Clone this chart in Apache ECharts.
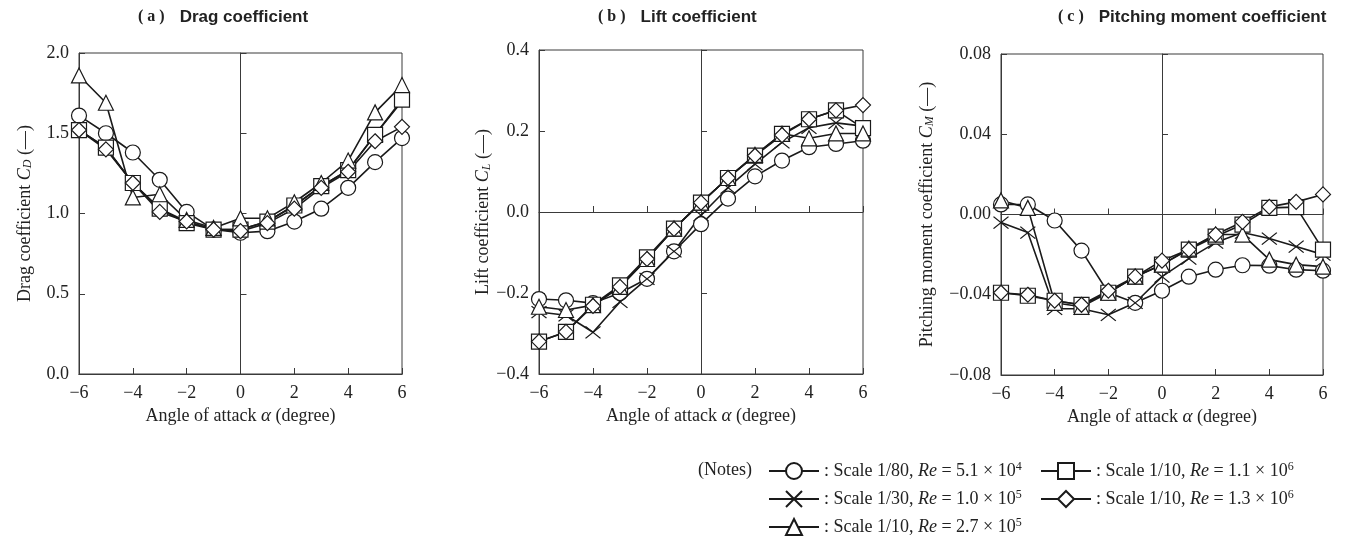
<!DOCTYPE html>
<html><head><meta charset="utf-8">
<script src="https://cdn.jsdelivr.net/npm/echarts@6.0.0/dist/echarts.min.js"></script>
<style>html,body{margin:0;padding:0;background:#fff}#c{width:1348px;height:540px}</style>
</head><body><div id="c"></div>
<script>
// ---------------- data ----------------
const angles = [-6, -5, -4, -3, -2, -1, 0, 1, 2, 3, 4, 5, 6];
const xTickLabels = {'-6': '\u22126', '-4': '\u22124', '-2': '\u22122', '0': '0', '2': '2', '4': '4', '6': '6'};

const legendScale = ['1/80', '1/30', '1/10', '1/10', '1/10'];
const legendRe = ['5.1', '1.0', '2.7', '1.1', '1.3'];
const legendExp = ['4', '5', '5', '6', '6'];
const seriesNames = legendScale.map((s, i) => 'Scale ' + s + ', Re = ' + legendRe[i] + ' x 10^' + legendExp[i]);

// (a) drag coefficient
const cdCircle   = [1.61, 1.50, 1.38, 1.21, 1.01, 0.90, 0.88, 0.89, 0.95, 1.03, 1.16, 1.32, 1.47];
const cdCross    = [1.52, 1.41, 1.19, 1.03, 0.95, 0.90, 0.90, 0.95, 1.05, 1.17, 1.27, 1.49, 1.70];
const cdTriangle = [1.86, 1.69, 1.10, 1.12, 0.96, 0.91, 0.97, 0.97, 1.07, 1.19, 1.33, 1.63, 1.80];
const cdSquare   = [1.52, 1.41, 1.19, 1.03, 0.94, 0.90, 0.90, 0.95, 1.05, 1.17, 1.27, 1.49, 1.71];
const cdDiamond  = [1.52, 1.40, 1.19, 1.01, 0.95, 0.90, 0.89, 0.94, 1.03, 1.16, 1.26, 1.45, 1.54];

// (b) lift coefficient
const clCircle   = [-0.215, -0.218, -0.225, -0.200, -0.165, -0.097, -0.030, 0.033, 0.088, 0.127, 0.160, 0.168, 0.176];
const clCross    = [-0.247, -0.255, -0.297, -0.222, -0.165, -0.097, -0.008, 0.060, 0.118, 0.172, 0.208, 0.220, 0.212];
const clTriangle = [-0.234, -0.242, -0.230, -0.185, -0.116, -0.041, 0.023, 0.084, 0.141, 0.193, 0.182, 0.194, 0.194];
const clSquare   = [-0.320, -0.296, -0.229, -0.181, -0.112, -0.041, 0.023, 0.084, 0.139, 0.193, 0.229, 0.251, 0.207];
const clDiamond  = [-0.320, -0.296, -0.232, -0.185, -0.116, -0.042, 0.023, 0.084, 0.139, 0.190, 0.229, 0.251, 0.264];

// (c) pitching moment coefficient
const cmCircle   = [0.005, 0.005, -0.003, -0.018, -0.039, -0.044, -0.038, -0.031, -0.0275, -0.0253, -0.0255, -0.0275, -0.028];
const cmCross    = [-0.004, -0.009, -0.047, -0.047, -0.050, -0.044, -0.031, -0.022, -0.014, -0.009, -0.012, -0.016, -0.020];
const cmTriangle = [0.007, 0.0033, -0.044, -0.046, -0.039, -0.031, -0.025, -0.017, -0.010, -0.010, -0.0225, -0.025, -0.026];
const cmSquare   = [-0.039, -0.0405, -0.043, -0.045, -0.039, -0.031, -0.025, -0.0175, -0.011, -0.005, 0.0033, 0.0037, -0.0175];
const cmDiamond  = [-0.039, -0.040, -0.043, -0.045, -0.038, -0.031, -0.023, -0.0175, -0.010, -0.0037, 0.0038, 0.0063, 0.010];

const panelTitles = ['Drag coefficient', 'Lift coefficient', 'Pitching moment coefficient'];
const panelLetters = ['( a )', '( b )', '( c )'];
const yNames = ['Drag coefficient', 'Lift coefficient', 'Pitching moment coefficient'];
const ySubs = ['D', 'L', 'M'];
const yRanges = [[0, 2, 0.5], [-0.4, 0.4, 0.2], [-0.08, 0.08, 0.04]];
const yTickLabels = [
  {'0': '0.0', '0.5': '0.5', '1': '1.0', '1.5': '1.5', '2': '2.0'},
  {'-0.4': '\u22120.4', '-0.2': '\u22120.2', '0': '0.0', '0.2': '0.2', '0.4': '0.4'},
  {'-0.08': '\u22120.08', '-0.04': '\u22120.04', '0': '0.00', '0.04': '0.04', '0.08': '0.08'}
];
const panelData = [
  [cdCircle, cdCross, cdSquare, cdTriangle, cdDiamond],
  [clCircle, clCross, clSquare, clTriangle, clDiamond],
  [cmCircle, cmCross, cmSquare, cmTriangle, cmDiamond]
];
// ---------------- styles ----------------
const serif = '"Liberation Serif", "Times New Roman", serif';
const sans = '"Liberation Sans", Arial, sans-serif';
const ink = '#1a1a1a';
const axisColor = '#3a3a3a';
const FS = 18;
const grids = [
  {left: 79, top: 53, width: 323, height: 321},
  {left: 539, top: 50, width: 324, height: 324},
  {left: 1001, top: 54, width: 322, height: 321}
];
const titleLeft = [133, 593, 1053];
const yNameGap = [45, 42, 65];
// symbol per series order: circle, cross, square, triangle, diamond
const drawOrder = [0, 1, 3, 2, 4]; // index into seriesNames
const symbols = ['circle', 'path://M0,0L14,12M14,0L0,12', 'rect', 'triangle', 'diamond'];
const symbolSizes = [15, [15, 12], 15, 15, 15];

function fmtKey(v) { return String(Math.round(v * 10000) / 10000); }

const xAxis = [], yAxis = [], series = [], title = [];
for (let p = 0; p < 3; p++) {
  title.push({
    text: '{b|' + panelLetters[p] + '}   {t|' + panelTitles[p] + '}',
    left: titleLeft[p], top: 3,
    textStyle: {rich: {
      b: {fontFamily: serif, fontWeight: 'bold', fontSize: 16, color: '#222'},
      t: {fontFamily: sans, fontSize: 17, color: '#222'}
    }}
  });
  for (let z = 0; z < 2; z++) {
    const zero = z === 1;
    xAxis.push({
      type: 'value', gridIndex: p, min: -6, max: 6, interval: 2, position: 'bottom',
      axisLine: zero ? {show: true, onZero: true, onZeroAxisIndex: 2 * p, lineStyle: {color: axisColor, width: 1}}
                     : {show: true, onZero: false, lineStyle: {color: axisColor, width: 1}},
      axisTick: {show: true, inside: true, length: 6, lineStyle: {color: axisColor, width: 1}},
      axisLabel: {show: !zero, margin: 10, fontFamily: serif, fontSize: FS, color: '#222',
        formatter: v => xTickLabels[fmtKey(v)] || ''},
      splitLine: {show: false},
      name: zero ? '' : 'Angle of attack {i|\u03b1} (degree)',
      nameLocation: 'middle', nameGap: 28,
      nameTextStyle: {fontFamily: serif, fontSize: FS, color: '#222',
        rich: {i: {fontFamily: serif, fontStyle: 'italic', fontSize: FS + 1, color: '#222'}}}
    });
    const yr = yRanges[p];
    yAxis.push({
      type: 'value', gridIndex: p, min: yr[0], max: yr[1], interval: yr[2], position: 'left',
      axisLine: zero ? {show: true, onZero: true, onZeroAxisIndex: 2 * p, lineStyle: {color: axisColor, width: 1}}
                     : {show: true, onZero: false, lineStyle: {color: axisColor, width: 1}},
      axisTick: {show: true, inside: true, length: 6, lineStyle: {color: axisColor, width: 1}},
      axisLabel: {show: !zero, margin: 10, fontFamily: serif, fontSize: FS, color: '#222',
        formatter: v => yTickLabels[p][fmtKey(v)] || ''},
      splitLine: {show: false},
      name: zero ? '' : yNames[p] + ' {i|C}{sub|' + ySubs[p] + '} (\u2014)',
      nameLocation: 'middle', nameRotate: 90, nameGap: yNameGap[p],
      nameTextStyle: {fontFamily: serif, fontSize: FS, color: '#222',
        rich: {
          i: {fontFamily: serif, fontStyle: 'italic', fontSize: FS, color: '#222'},
          sub: {fontFamily: serif, fontStyle: 'italic', fontSize: 12, color: '#222', verticalAlign: 'bottom', lineHeight: 12}
        }}
    });
  }
  for (let k = 0; k < 5; k++) {
    const vals = panelData[p][k];
    series.push({
      type: 'line', name: seriesNames[drawOrder[k]],
      xAxisIndex: 2 * p, yAxisIndex: 2 * p,
      data: angles.map((a, i) => [a, vals[i]]),
      symbol: symbols[k], symbolSize: symbolSizes[k], showSymbol: true, showAllSymbol: true,
      lineStyle: {color: ink, width: 1.6},
      itemStyle: {color: '#fff', borderColor: ink, borderWidth: 1.2},
      emphasis: {disabled: true}, silent: true, animation: false
    });
  }
}

// legend: symbols in seriesNames order are circle, cross, triangle, square, diamond
const legendText = name => {
  const i = seriesNames.indexOf(name);
  return ': Scale ' + legendScale[i] + ', {i|Re} = ' + legendRe[i] + ' \u00d7 10{sup|' + legendExp[i] + '}';
};
const legendCommon = {
  orient: 'vertical', itemWidth: 50, itemHeight: 20, itemGap: 8, selectedMode: false,
  padding: 0, height: 120, width: 320,
  formatter: legendText,
  textStyle: {fontFamily: serif, fontSize: FS, color: '#222', lineHeight: 20,
    rich: {
      i: {fontFamily: serif, fontStyle: 'italic', fontSize: FS, color: '#222', lineHeight: 20},
      sup: {fontFamily: serif, fontSize: 12, color: '#222', verticalAlign: 'top', lineHeight: 12}
    }}
};
const legend = [
  Object.assign({}, legendCommon, {data: seriesNames.slice(0, 3), left: 768, top: 461}),
  Object.assign({}, legendCommon, {data: seriesNames.slice(3), left: 1040, top: 461})
];

const chart = echarts.init(document.getElementById('c'), null, {renderer: 'canvas'});
chart.setOption({
  animation: false,
  backgroundColor: '#fff',
  title: title,
  grid: grids.map(g => Object.assign({show: true, borderColor: axisColor, borderWidth: 1, backgroundColor: 'transparent', containLabel: false, outerBoundsMode: 'none'}, g)),
  xAxis: xAxis, yAxis: yAxis, series: series, legend: legend,
  graphic: [{type: 'text', left: 698, top: 461, style: {text: '(Notes)', font: FS + 'px ' + serif, fill: '#222'}}]
});
</script></body></html>
